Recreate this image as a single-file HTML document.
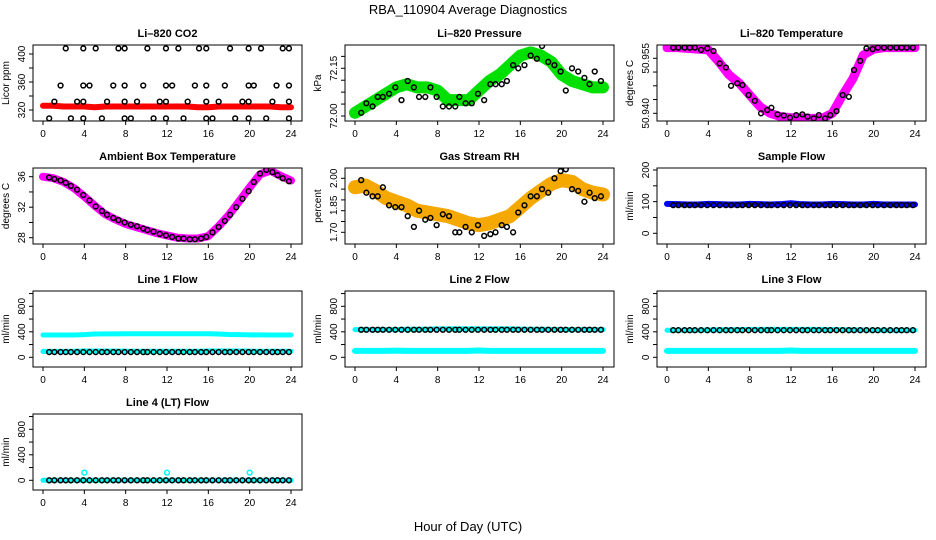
<!DOCTYPE html>
<html><head><meta charset="utf-8"><style>
body{margin:0;background:#fff;width:936px;height:540px;overflow:hidden}
svg{display:block;font-family:"Liberation Sans",sans-serif}
</style></head><body>
<svg id="chart" width="936" height="540" viewBox="0 0 936 540" xmlns="http://www.w3.org/2000/svg">
<rect width="936" height="540" fill="#fff"/>
<text x="468" y="14" text-anchor="middle" font-size="13">RBA_110904  Average Diagnostics</text>
<text x="468" y="531" text-anchor="middle" font-size="13">Hour of Day (UTC)</text>
</svg>
<script>
// shared data
const bandHours = [0,1,2,3,4,5,6,7,8,9,10,11,12,13,14,15,16,17,18,19,20,21,22,23,24];
const ptHours = [0.6,1.1,1.7,2.2,2.7,3.3,3.9,4.5,5.1,5.7,6.2,6.8,7.3,7.9,8.5,9.1,9.7,10.1,10.7,11.3,11.9,12.5,13.1,13.6,14.2,14.7,15.3,15.8,16.4,17.0,17.6,18.1,18.7,19.3,19.9,20.4,21.0,21.6,22.2,22.7,23.2,23.8];
const xTicks = [0,4,8,12,16,20,24];

// CO2
const co2Band = [326,326,325,325,325,324,325,325,325,325,325,325,325,325,325,324,324,325,325,325,325,325,325,324,324];
const co2TopHours = [2.2,3.9,5.1,7.3,7.9,10.1,11.9,13.1,15.1,15.8,18.1,19.9,21.1,23.2,23.8];
const co2Top = [408,408,408,408,408,408,408,408,408,408,408,408,408,408,408];
const co2MidHours = [1.7,3.9,4.5,6.8,7.9,9.7,11.9,12.5,14.7,15.8,17.6,19.9,20.4,22.6,23.8];
const co2Mid = [355,355,355,355,355,355,355,355,355,355,355,355,355,355,355];
const co2LowHours = [1.1,3.3,3.9,6.2,7.9,9.1,11.3,11.9,14.0,15.8,17.0,19.3,19.9,22.2,23.8];
const co2Low = [332,332,332,332,332,332,332,332,332,332,332,332,332,332,332];
const co2BotHours = [0.6,2.7,3.9,5.7,7.9,8.5,10.7,11.9,13.6,15.8,16.4,18.6,19.9,21.6,23.8];
const co2Bot = [308,308,308,308,308,308,308,308,308,308,308,308,308,308,308];
// Pressure
const presBand = [72.01,72.03,72.05,72.07,72.09,72.10,72.09,72.09,72.08,72.05,72.05,72.05,72.08,72.11,72.13,72.16,72.19,72.20,72.19,72.17,72.13,72.11,72.10,72.09,72.09];
const presPts = [72.01,72.04,72.03,72.06,72.06,72.07,72.09,72.05,72.11,72.09,72.06,72.06,72.09,72.06,72.03,72.03,72.03,72.06,72.04,72.04,72.07,72.05,72.10,72.10,72.10,72.11,72.16,72.15,72.16,72.19,72.18,72.22,72.17,72.16,72.14,72.08,72.15,72.14,72.12,72.10,72.14,72.11];
// Li-820 temperature
const tempBand = [50.9579,50.9579,50.9577,50.9575,50.9573,50.9541,50.9505,50.9482,50.9450,50.9418,50.9400,50.9391,50.9388,50.9388,50.9386,50.9386,50.9400,50.9450,50.9495,50.9559,50.9575,50.9579,50.9579,50.9579,50.9579];
const tempPts = [50.9579,50.9579,50.9579,50.9579,50.9579,50.9573,50.9577,50.9570,50.9536,50.9525,50.9475,50.9482,50.9477,50.9450,50.9434,50.9400,50.9409,50.9415,50.9397,50.9394,50.9388,50.9395,50.9397,50.9391,50.9386,50.9395,50.9386,50.9395,50.9406,50.9450,50.9445,50.9518,50.9543,50.9577,50.9575,50.9579,50.9579,50.9579,50.9579,50.9579,50.9579,50.9579];
// Ambient
const ambBand = [36.0,35.8,35.3,34.5,33.4,32.2,31.1,30.4,29.8,29.4,29.0,28.6,28.3,28.0,27.9,27.9,28.2,29.5,31.0,32.8,34.6,36.3,36.8,36.1,35.5];
const ambPts = [35.9,35.7,35.5,35.2,34.8,34.3,33.6,32.9,32.1,31.5,31.0,30.6,30.3,30.0,29.7,29.5,29.2,29.0,28.8,28.5,28.3,28.1,27.9,27.9,27.8,27.8,27.9,28.1,28.7,29.4,30.2,31.0,32.0,33.1,34.1,35.3,36.4,36.9,36.6,36.2,35.8,35.4];
// RH
const rhBand = [1.95,1.96,1.93,1.89,1.87,1.85,1.82,1.81,1.80,1.79,1.77,1.75,1.74,1.75,1.77,1.79,1.84,1.89,1.93,1.97,1.99,1.98,1.94,1.92,1.91];
const rhPts = [1.99,1.92,1.90,1.90,1.95,1.85,1.84,1.84,1.79,1.73,1.82,1.77,1.78,1.74,1.80,1.79,1.70,1.70,1.73,1.70,1.74,1.68,1.69,1.70,1.74,1.73,1.70,1.81,1.85,1.90,1.90,1.94,1.92,2.00,2.04,2.05,1.94,1.93,1.87,1.92,1.89,1.90];
// Flows
const sampleBand = [93,92,91,91,93,92,91,91,93,92,91,92,95,92,91,91,93,92,91,91,93,91,91,91,91];
const sampleFlowPt = 89;
const l1Upper = [350,350,350,350,355,365,368,368,370,370,370,370,370,370,370,370,370,365,358,355,352,352,350,350,350];
const l1Lower = [92,92,92,95,98,98,98,96,96,95,95,95,95,95,95,95,98,98,98,98,96,95,95,95,95];
const l1BlackPt = 82;
const l2Upper = [435,435,435,435,437,440,440,440,445,445,445,445,445,445,445,445,442,440,440,437,435,435,435,435,435];
const l2Lower = [100,100,100,100,104,100,100,100,100,100,100,100,106,100,100,100,100,100,100,100,100,100,100,100,100];
const l2BlackPt = 432;
const l3Upper = [425,425,425,425,428,432,432,435,438,438,438,438,438,438,438,438,435,432,430,428,425,425,425,425,425];
const l3Lower = [100,100,100,100,100,100,100,100,100,100,100,100,106,100,100,100,100,100,100,100,100,100,100,100,100];
const l3BlackPt = 425;
const l4Cyan = [0,0,0,0,0,0,0,0,0,0,0,0,0,0,0,0,0,0,0,0,0,0,0,0,0];
const l4SpikeHours = [4,12,20];
const l4Spikes = [120,120,120];
const l4BlackPt = 0;

const svg = document.getElementById('chart');
const NS = 'http://www.w3.org/2000/svg';
function mk(tag, attrs, parent){const e=document.createElementNS(NS,tag);for(const k in attrs)e.setAttribute(k,attrs[k]);(parent||svg).appendChild(e);return e;}

function panel(cfg){
  const g = mk('g',{});
  
  
  const L=cfg.left, T=cfg.top, W=269, H=76;
  const xs = h => L+10 + h*(248/24);
  const ys = v => cfg.y0px + (v-cfg.v0)*(cfg.y1px-cfg.y0px)/(cfg.v1-cfg.v0);
  // clip
  const cid='clip'+cfg.name;
  const cp=mk('clipPath',{id:cid},g);mk('rect',{x:L,y:T,width:W,height:H},cp);
  const plot=mk('g',{'clip-path':'url(#'+cid+')'},g);
  cfg.draw(plot,xs,ys);
  const box=mk('rect',{x:L,y:T,width:W,height:H,fill:'none',stroke:'#000','stroke-width':1},g);
  
  
  const t=mk('text',{x:L+W/2,y:T-8,'text-anchor':'middle','font-size':11,'font-weight':'bold'},g);
  t.textContent=cfg.title;
  
  
  // x axis
  const B=T+H;
  mk('line',{x1:xs(0),x2:xs(24),y1:B,y2:B,stroke:'#000'},g);
  xTicks.forEach(v=>{
    mk('line',{x1:xs(v),x2:xs(v),y1:B,y2:B+4,stroke:'#000'},g);
    const tx=mk('text',{x:xs(v),y:B+16,'text-anchor':'middle','font-size':10},g);
    tx.textContent=v;
    
    
  });
  // y axis
  const yt=cfg.yticks.map(ys);
  mk('line',{x1:L,x2:L,y1:Math.min(...yt),y2:Math.max(...yt),stroke:'#000'},g);
  cfg.yticks.forEach(v=>mk('line',{x1:L-4,x2:L,y1:ys(v),y2:ys(v),stroke:'#000'},g));
  cfg.ylabels.forEach((lab,i)=>{
    const y=ys(cfg.ylabelVals[i]);const x=L-8;
    const tx=mk('text',{x:x,y:y,'text-anchor':'middle','font-size':10,transform:'rotate(-90 '+x+' '+y+')'},g);
    tx.textContent=lab;
    
    
  });
  const yx=L-24, yy=T+H/2;
  const ya=mk('text',{x:yx,y:yy,'text-anchor':'middle','font-size':10,transform:'rotate(-90 '+yx+' '+yy+')'},g);
  ya.textContent=cfg.ylab;
  
  
}
function band(p,xs,ys,hours,vals,color,w,name){
  const pl=mk('polyline',{points:hours.map((h,i)=>xs(h)+','+ys(vals[i])).join(' '),fill:'none',stroke:color,'stroke-width':w,'stroke-linecap':'round','stroke-linejoin':'round'},p);
  
  
}
function pts(p,xs,ys,hours,vals,color,name){
  hours.forEach((h,i)=>{
    const c=mk('circle',{cx:xs(h),cy:ys(vals[i]),r:2.4,fill:'none',stroke:color,'stroke-width':1.5},p);
    
    
  });
}
const C=[33,345,657], R=[45,168,291,414];
const cyan='#00ffff';
const flowTicks=[0,200,400,600,800,1000];

panel({name:'co2-panel',title:'Li\u2013820 CO2',ylab:'Licor ppm',left:C[0],top:R[0],v0:320,v1:400,y0px:110,y1px:54,
 yticks:[320,340,360,380,400],ylabels:['320','360','400'],ylabelVals:[320,360,400],
 draw:(p,xs,ys)=>{band(p,xs,ys,bandHours,co2Band,'#ff0000',6,'co2-band');
  pts(p,xs,ys,co2TopHours,co2Top,'#000','co2-point');pts(p,xs,ys,co2MidHours,co2Mid,'#000','co2-point');
  pts(p,xs,ys,co2LowHours,co2Low,'#000','co2-point');pts(p,xs,ys,co2BotHours,co2Bot,'#000','co2-point');}});
panel({name:'pressure-panel',title:'Li\u2013820 Pressure',ylab:'kPa',left:C[1],top:R[0],v0:72.0,v1:72.15,y0px:116,y1px:68.3,
 yticks:[72.0,72.0375,72.075,72.1125,72.15,72.1875],ylabels:['72.00','72.15'],ylabelVals:[72.0,72.15],
 draw:(p,xs,ys)=>{band(p,xs,ys,bandHours,presBand,'#00e000',12,'pressure-band');pts(p,xs,ys,ptHours,presPts,'#000','pressure-point');}});
panel({name:'li820-temp-panel',title:'Li\u2013820 Temperature',ylab:'degrees C',left:C[2],top:R[0],v0:50.940,v1:50.955,y0px:113.3,y1px:58.3,
 yticks:[50.94,50.94375,50.9475,50.95125,50.955],ylabels:['50.940','50.955'],ylabelVals:[50.94,50.955],
 draw:(p,xs,ys)=>{band(p,xs,ys,bandHours,tempBand,'#ff00ff',9,'li820-temp-band');pts(p,xs,ys,ptHours,tempPts,'#000','li820-temp-point');}});
panel({name:'ambient-temp-panel',title:'Ambient Box Temperature',ylab:'degrees C',left:C[0],top:R[1],v0:28,v1:36,y0px:237.7,y1px:176.7,
 yticks:[28,30,32,34,36],ylabels:['28','32','36'],ylabelVals:[28,32,36],
 draw:(p,xs,ys)=>{band(p,xs,ys,bandHours,ambBand,'#ff00ff',8,'ambient-band');pts(p,xs,ys,ptHours,ambPts,'#000','ambient-point');}});
panel({name:'rh-panel',title:'Gas Stream RH',ylab:'percent',left:C[1],top:R[1],v0:1.70,v1:2.00,y0px:232.3,y1px:178.3,
 yticks:[1.70,1.76,1.82,1.88,1.94,2.00],ylabels:['1.70','1.85','2.00'],ylabelVals:[1.70,1.85,2.00],
 draw:(p,xs,ys)=>{band(p,xs,ys,bandHours,rhBand,'#f5a800',14,'rh-band');pts(p,xs,ys,ptHours,rhPts,'#000','rh-point');}});
panel({name:'sample-flow-panel',title:'Sample Flow',ylab:'ml/min',left:C[2],top:R[1],v0:0,v1:200,y0px:233.3,y1px:170,
 yticks:[0,50,100,150,200],ylabels:['0','100','200'],ylabelVals:[0,100,200],
 draw:(p,xs,ys)=>{band(p,xs,ys,bandHours,sampleBand,'#0000ff',6,'sample-flow-band');pts(p,xs,ys,ptHours,ptHours.map(()=>sampleFlowPt),'#000','sample-flow-point');}});
function flowPanel(name,title,left,top,draw){
  panel({name:name,title:title,ylab:'ml/min',left:left,top:top,v0:0,v1:800,y0px:top+66.3,y1px:top+15.3,
   yticks:flowTicks,ylabels:['0','400','800'],ylabelVals:[0,400,800],draw:draw});
}
flowPanel('line1-flow-panel','Line 1 Flow',C[0],R[2],(p,xs,ys)=>{band(p,xs,ys,bandHours,l1Upper,cyan,5,'line1-cyan-upper');band(p,xs,ys,bandHours,l1Lower,cyan,5,'line1-cyan-lower');pts(p,xs,ys,ptHours,ptHours.map(()=>l1BlackPt),'#000','line1-point');});
flowPanel('line2-flow-panel','Line 2 Flow',C[1],R[2],(p,xs,ys)=>{band(p,xs,ys,bandHours,l2Upper,cyan,5,'line2-cyan-upper');band(p,xs,ys,bandHours,l2Lower,cyan,6,'line2-cyan-lower');pts(p,xs,ys,ptHours,ptHours.map(()=>l2BlackPt),'#000','line2-point');});
flowPanel('line3-flow-panel','Line 3 Flow',C[2],R[2],(p,xs,ys)=>{band(p,xs,ys,bandHours,l3Upper,cyan,5,'line3-cyan-upper');band(p,xs,ys,bandHours,l3Lower,cyan,6,'line3-cyan-lower');pts(p,xs,ys,ptHours,ptHours.map(()=>l3BlackPt),'#000','line3-point');});
flowPanel('line4-flow-panel','Line 4 (LT) Flow',C[0],R[3],(p,xs,ys)=>{band(p,xs,ys,bandHours,l4Cyan,cyan,5,'line4-cyan');pts(p,xs,ys,l4SpikeHours,l4Spikes,cyan,'line4-spike');pts(p,xs,ys,ptHours,ptHours.map(()=>l4BlackPt),'#000','line4-point');});
</script>
</body></html>
